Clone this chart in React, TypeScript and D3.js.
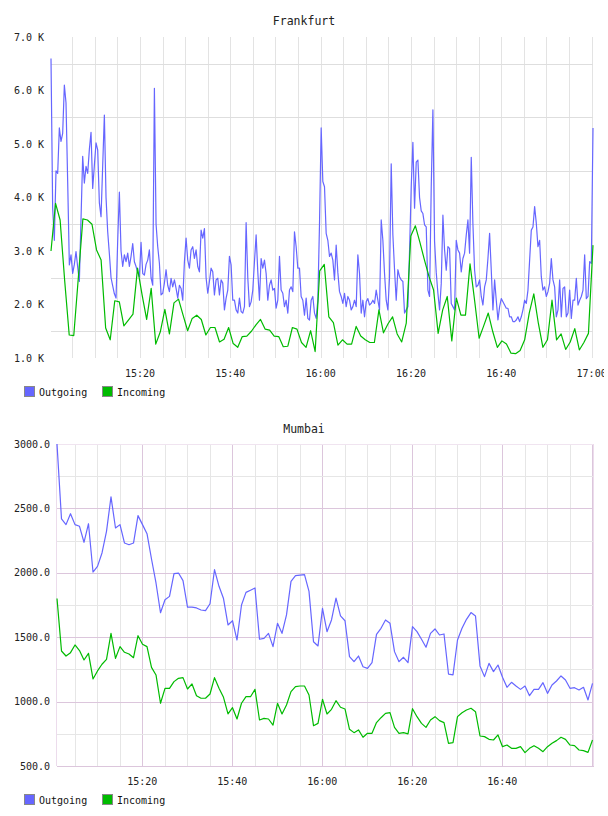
import { useEffect, useRef } from 'react';
import * as d3 from 'd3';

const WIDTH = 608;
const HEIGHT = 816;
const CANVAS_RIGHT = 604;
const FONT = '"DejaVu Sans Mono", monospace';

const SERIES_NAMES = ['Outgoing', 'Incoming'];
const SERIES_COLORS = ['#6666ff', '#00bb00'];

// Frankfurt: samples spread evenly over the window, values in thousands
const FRANKFURT_WINDOW = ['15:00:18', '17:00:18'];
const frankfurtOutgoing = [
  6.6, 3.8, 3.2, 4.5, 4.45, 5.3, 5.05, 5.2, 6.1, 5.77,
  4.3, 2.74, 2.93, 2.58, 2.75, 2.99, 2.7, 2.43, 3.6, 4.77,
  4.27, 4.58, 4.45, 4.9, 5.22, 4.17, 4.6, 5.02, 4.89, 3.9,
  3.64, 4.6, 5.54, 4.0, 3.36, 2.95, 2.5, 2.35, 2.2, 2.12,
  3.2, 4.1, 3.0, 2.71, 2.93, 2.8, 2.96, 2.71, 2.9, 3.14,
  2.8, 2.71, 2.6, 2.52, 3.16, 2.58, 2.55, 2.75, 2.83, 3.02,
  2.5, 2.36, 6.04, 3.5, 3.08, 2.77, 2.18, 2.21, 2.4, 2.65,
  2.36, 2.24, 2.49, 2.33, 2.46, 2.3, 2.12, 2.36, 2.3, 2.08,
  2.8, 3.24, 2.83, 2.68, 3.02, 3.08, 2.86, 3.02, 2.71, 2.61,
  3.39, 3.24, 3.42, 2.5, 2.21, 2.43, 2.68, 2.61, 2.18, 2.46,
  2.49, 2.18, 2.46, 2.4, 1.9, 2.12, 2.27, 2.9, 2.74, 2.08,
  2.08, 1.9, 1.84, 2.12, 1.87, 1.84, 1.96, 3.53, 2.5, 1.96,
  2.05, 2.27, 2.8, 3.3, 2.61, 2.08, 2.86, 2.68, 2.83, 2.58,
  2.08, 2.36, 2.46, 2.27, 2.3, 1.93, 2.08, 2.9, 2.27, 2.21,
  1.96, 2.08, 1.84, 2.27, 2.33, 2.24, 3.36, 3.08, 2.68, 2.68,
  2.15, 2.08, 1.8, 2.12, 1.74, 1.71, 2.08, 2.15, 1.84, 1.74,
  2.08, 3.5, 5.3, 4.3, 4.2, 3.33, 3.2, 2.9, 2.96, 2.83,
  2.46, 3.11, 2.6, 2.24, 2.15, 2.02, 2.21, 1.96, 2.15, 2.08,
  1.9, 1.96, 2.08, 1.96, 2.93, 2.58, 1.84, 2.08, 1.77, 2.05,
  2.11, 1.99, 2.02, 2.08, 2.02, 2.27, 2.08, 1.9, 3.58, 3.2,
  2.58, 2.08, 1.9, 2.52, 4.63, 3.3, 2.65, 2.08, 2.65, 2.52,
  2.46, 2.43, 1.84, 1.9, 1.96, 3.0, 4.2, 5.03, 3.8, 4.66,
  4.7, 4.0, 3.75, 3.7, 3.49, 3.45, 2.27, 2.15, 4.2, 5.64,
  3.18, 2.6, 2.21, 1.9, 2.39, 3.67, 3.02, 2.64, 3.08, 3.05,
  2.02, 1.96, 1.9, 3.2, 3.02, 2.96, 2.61, 2.86, 2.96, 3.3,
  3.58, 2.96, 4.75, 3.5, 2.64, 2.33, 2.36, 2.46, 2.15, 1.99,
  2.33, 2.46, 2.86, 3.33, 2.64, 1.9, 2.46, 2.08, 1.71, 1.96,
  2.11, 2.05, 1.99, 1.93, 1.93, 1.77, 1.77, 1.68, 1.68, 1.71,
  1.77, 1.68, 1.77, 1.9, 2.08, 2.02, 2.27, 2.83, 3.39, 3.45,
  3.83, 3.52, 3.08, 3.2, 2.52, 2.27, 2.33, 2.15, 2.24, 2.4,
  2.86, 2.46, 2.33, 1.77, 1.9, 2.46, 1.77, 2.3, 2.33, 1.77,
  1.84, 2.27, 1.74, 2.08, 2.08, 2.49, 1.99, 2.08, 2.15, 2.27,
  2.93, 2.11, 2.15, 2.8, 2.77, 5.3,
];
const frankfurtIncoming = [
  3.0, 3.89, 3.58, 2.45, 1.43, 1.42, 2.5, 3.6, 3.58, 3.5,
  3.02, 2.83, 1.56, 1.34, 2.07, 2.05, 1.6, 1.71, 1.82, 2.68,
  2.18, 1.72, 2.3, 1.26, 1.49, 1.91, 1.45, 2.03, 2.1, 1.8,
  1.51, 1.74, 1.8, 1.72, 1.43, 1.57, 1.57, 1.3, 1.35, 1.57,
  1.27, 1.2, 1.4, 1.41, 1.5, 1.62, 1.72, 1.54, 1.52, 1.41,
  1.4, 1.21, 1.22, 1.57, 1.54, 1.29, 1.2, 1.51, 1.12, 2.63,
  2.75, 1.77, 1.66, 1.24, 1.34, 1.26, 1.26, 1.59, 1.41, 1.34,
  1.29, 1.29, 1.9, 1.47, 1.64, 1.77, 1.45, 1.3, 1.65, 3.28,
  3.47, 3.16, 2.83, 2.52, 2.27, 1.46, 1.9, 2.15, 1.32, 2.12,
  1.8, 1.8, 2.76, 2.08, 1.37, 1.6, 1.84, 1.49, 1.2, 1.32,
  1.26, 1.09, 1.08, 1.14, 1.34, 1.84, 2.2, 1.65, 1.2, 1.34,
  2.08, 1.34, 1.45, 1.16, 1.3, 1.55, 1.15, 1.29, 1.46, 3.11,
];
const frankfurtYTicks = [1, 2, 3, 4, 5, 6, 7];
const frankfurtYGrid = [1.5, 2.5, 3.5, 4.5, 5.5, 6.5];
const frankfurtXLabels = ['15:20', '15:40', '16:00', '16:20', '16:40', '17:00'];

// Mumbai: one sample a minute
const MUMBAI_WINDOW = ['15:01:04', '17:00:24'];
const MUMBAI_STEP_SEC = 60;
const mumbaiOutgoing = [
  3000, 2418, 2374, 2459, 2374, 2361, 2237, 2381, 2006, 2050,
  2154, 2322, 2589, 2348, 2374, 2231, 2218, 2231, 2444, 2374,
  2304, 2107, 1921, 1690, 1791, 1817, 1993, 1998, 1939, 1734,
  1734, 1727, 1711, 1706, 1760, 2024, 1895, 1800, 1595, 1628,
  1478, 1750, 1848, 1865, 1882, 1484, 1491, 1530, 1427, 1608,
  1530, 1673, 1934, 1978, 1982, 1986, 1856, 1465, 1432, 1724,
  1543, 1634, 1804, 1665, 1628, 1349, 1310, 1354, 1271, 1258,
  1302, 1522, 1569, 1634, 1608, 1388, 1310, 1344, 1302, 1582,
  1543, 1484, 1422, 1530, 1564, 1517, 1525, 1214, 1207, 1478,
  1569, 1639, 1691, 1665, 1277, 1194, 1297, 1233, 1284, 1189,
  1111, 1150, 1121, 1095, 1121, 1046, 1095, 1095, 1147, 1064,
  1129, 1160, 1199, 1168, 1103, 1108, 1090, 1111, 1013, 1142,
];
const mumbaiIncoming = [
  1800, 1393, 1354, 1380, 1440, 1396, 1323, 1375, 1176, 1238,
  1290, 1328, 1530, 1336, 1427, 1383, 1370, 1341, 1512, 1445,
  1427, 1266, 1207, 987, 1103, 1103, 1155, 1181, 1186, 1098,
  1137, 1046, 1026, 1026, 1059, 1186, 1103, 1033, 904, 953,
  865, 987, 1038, 1038, 1095, 857, 870, 865, 818, 987,
  904, 974, 1077, 1116, 1121, 1121, 1051, 813, 831, 1018,
  904, 940, 1007, 956, 943, 785, 759, 780, 723, 754,
  754, 837, 875, 909, 914, 800, 754, 759, 749, 945,
  883, 831, 800, 857, 883, 852, 837, 676, 681, 883,
  914, 935, 948, 922, 733, 728, 707, 702, 741, 650,
  663, 637, 637, 650, 604, 637, 658, 637, 611, 650,
  676, 697, 723, 707, 663, 658, 624, 619, 606, 702,
];
const mumbaiYTicks = [500, 1000, 1500, 2000, 2500, 3000];
const mumbaiYMinor = [750, 1250, 1750, 2250, 2750];
const mumbaiXLabels = ['15:20', '15:40', '16:00', '16:20', '16:40'];

const parseClock = d3.timeParse('%H:%M:%S');
const parseTick = d3.timeParse('%H:%M');

type Point = { t: Date; v: number };

function drawLines(g, x, y, series: Point[][]) {
  const line = d3.line<Point>()
    .x(d => x(d.t))
    .y(d => y(d.v));
  series.forEach((pts, i) => {
    g.append('path')
      .datum(pts)
      .attr('fill', 'none')
      .attr('stroke', SERIES_COLORS[i])
      .attr('stroke-width', 1.2)
      .attr('stroke-linejoin', 'round')
      .attr('d', line);
  });
}

function drawTitle(g, text, cy) {
  g.append('text')
    .attr('x', WIDTH / 2)
    .attr('y', cy)
    .attr('dy', '0.35em')
    .attr('text-anchor', 'middle')
    .style('font-family', FONT)
    .style('font-size', '11.5px')
    .style('fill', '#222')
    .text(text);
}

function drawXLabels(g, x, cy, tickLabels: string[]) {
  // labels past the canvas edge get cut, like the last "17:00"
  const labels = g.append('g').attr('clip-path', 'url(#canvas-clip)');
  tickLabels.forEach(lbl => {
    labels.append('text')
      .attr('x', x(parseTick(lbl)))
      .attr('y', cy)
      .attr('dy', '0.35em')
      .attr('text-anchor', 'middle')
      .style('font-family', FONT)
      .style('font-size', '10px')
      .style('fill', '#222')
      .text(lbl);
  });
}

function drawYLabels(g, y, ticks, fmt, right) {
  ticks.forEach(v => {
    g.append('text')
      .attr('x', right)
      .attr('y', y(v))
      .attr('dy', '0.35em')
      .attr('text-anchor', 'end')
      .style('font-family', FONT)
      .style('font-size', '10px')
      .style('fill', '#222')
      .text(fmt(v));
  });
}

function drawLegend(g, cy) {
  const slots = [24, 102];
  SERIES_NAMES.forEach((name, i) => {
    g.append('rect')
      .attr('x', slots[i] + 0.5)
      .attr('y', cy - 5.5)
      .attr('width', 10)
      .attr('height', 10)
      .attr('fill', SERIES_COLORS[i])
      .attr('stroke', '#888');
    g.append('text')
      .attr('x', slots[i] + 15)
      .attr('y', cy)
      .attr('dy', '0.35em')
      .style('font-family', FONT)
      .style('font-size', '10px')
      .style('fill', '#111')
      .text(name);
  });
}

const crisp = (v: number) => Math.round(v) + 0.5;

export default function App() {
  const svgRef = useRef<SVGSVGElement>(null);

  useEffect(() => {
    if (!svgRef.current) return;
    const svg = d3.select(svgRef.current);
    svg.selectAll('*').remove();

    svg.append('defs')
      .append('clipPath')
      .attr('id', 'canvas-clip')
      .append('rect')
      .attr('width', CANVAS_RIGHT)
      .attr('height', HEIGHT);

    svg.append('rect')
      .attr('width', WIDTH)
      .attr('height', HEIGHT)
      .attr('fill', '#fff');

    // ---- Frankfurt ----
    const fT0 = parseClock(FRANKFURT_WINDOW[0]);
    const fT1 = parseClock(FRANKFURT_WINDOW[1]);
    const spread = (vals: number[]): Point[] => vals.map((v, i) => ({
      t: new Date(+fT0 + ((+fT1 - +fT0) * i) / (vals.length - 1)),
      v,
    }));

    const fx = d3.scaleTime().domain([fT0, fT1]).range([51, 593]);
    const fy = d3.scaleLinear().domain([1, 7]).range([358, 37]);
    const top = svg.append('g');

    drawTitle(top, 'Frankfurt', 20.5);

    fx.ticks(d3.timeMinute.every(5)).forEach(t => {
      top.append('line')
        .attr('x1', crisp(fx(t))).attr('x2', crisp(fx(t)))
        .attr('y1', 37).attr('y2', 358)
        .attr('stroke', '#e3e3e3');
    });
    frankfurtYGrid.forEach(v => {
      top.append('line')
        .attr('x1', 51).attr('x2', 593)
        .attr('y1', crisp(fy(v))).attr('y2', crisp(fy(v)))
        .attr('stroke', '#dedede');
    });

    drawLines(top, fx, fy, [spread(frankfurtOutgoing), spread(frankfurtIncoming)]);
    drawYLabels(top, fy, frankfurtYTicks, v => `${d3.format('.1f')(v)} K`, 44);
    drawXLabels(top, fx, 373, frankfurtXLabels);
    drawLegend(top, 392);

    // ---- Mumbai ----
    const mT0 = parseClock(MUMBAI_WINDOW[0]);
    const mT1 = parseClock(MUMBAI_WINDOW[1]);
    const stepped = (vals: number[]): Point[] => vals.map((v, i) => ({
      t: new Date(+mT0 + i * MUMBAI_STEP_SEC * 1000),
      v,
    }));

    const mx = d3.scaleTime().domain([mT0, mT1]).range([57, 594]);
    const my = d3.scaleLinear().domain([500, 3000]).range([766, 444]);
    const bottom = svg.append('g');

    drawTitle(bottom, 'Mumbai', 428.5);

    mx.ticks(d3.timeMinute.every(5)).forEach(t => {
      const major = t.getMinutes() % 20 === 0;
      bottom.append('line')
        .attr('x1', crisp(mx(t))).attr('x2', crisp(mx(t)))
        .attr('y1', 444).attr('y2', 766)
        .attr('stroke', major ? '#dcc6dc' : '#e6e6e6');
    });
    mumbaiYMinor.forEach(v => {
      bottom.append('line')
        .attr('x1', 57).attr('x2', 594)
        .attr('y1', crisp(my(v))).attr('y2', crisp(my(v)))
        .attr('stroke', '#e6e6e6');
    });
    mumbaiYTicks.forEach(v => {
      bottom.append('line')
        .attr('x1', 57).attr('x2', 594)
        .attr('y1', crisp(my(v))).attr('y2', crisp(my(v)))
        .attr('stroke', v === 3000 ? '#f0e4f0' : '#dcc6dc');
    });
    [57, 594].forEach(xv => {
      bottom.append('line')
        .attr('x1', crisp(xv - 1)).attr('x2', crisp(xv - 1))
        .attr('y1', 444).attr('y2', 766)
        .attr('stroke', '#ecdcec');
    });

    drawLines(bottom, mx, my, [stepped(mumbaiOutgoing), stepped(mumbaiIncoming)]);
    drawYLabels(bottom, my, mumbaiYTicks, d3.format('.1f'), 50);
    drawXLabels(bottom, mx, 781, mumbaiXLabels);
    drawLegend(bottom, 800);
  }, []);

  return (
    <svg
      ref={svgRef}
      width={WIDTH}
      height={HEIGHT}
      style={{ position: 'absolute', left: 0, top: 0, display: 'block' }}
    />
  );
}
